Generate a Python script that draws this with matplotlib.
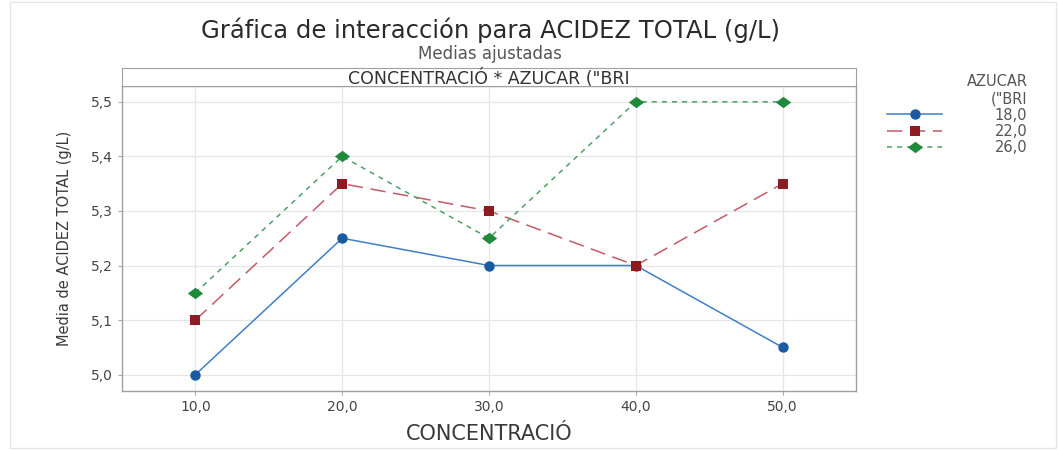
import numpy as np
import matplotlib.pyplot as plt
from matplotlib.ticker import FuncFormatter
from matplotlib.patches import Rectangle

# data
concentracion = [10, 20, 30, 40, 50]
azucar_niveles = ["18,0", "22,0", "26,0"]
media_18 = [5.00, 5.25, 5.20, 5.20, 5.05]
media_22 = [5.10, 5.35, 5.30, 5.20, 5.35]
media_26 = [5.15, 5.40, 5.25, 5.50, 5.50]
y_ticks = [5.0, 5.1, 5.2, 5.3, 5.4, 5.5]

series = [media_18, media_22, media_26]
line_colors = ['#3f7fc4', '#c45a66', '#4ea066']
mark_colors = ['#1a5aa0', '#8e1b21', '#1e8a3a']
styles = ['-', (0, (10, 5)), (0, (3.3, 3.3))]
diamond = [(-1, 0), (0, 0.75), (1, 0), (0, -0.75), (-1, 0)]
markers = ['o', 's', diamond]
msizes = [7.5, 7.5, 11]

plt.rcParams['font.family'] = ['DejaVu Sans']

fig = plt.figure(figsize=(10.59, 4.5), dpi=100)
fig.patches.append(Rectangle((0.009, 0.005), 0.988, 0.99, transform=fig.transFigure,
                             fill=False, edgecolor='#e6e6e6', lw=1))

ax = fig.add_axes([0.1152, 0.1311, 0.6931, 0.6778])
for vals, lc, mc, ls, m, ms, lab in zip(series, line_colors, mark_colors, styles,
                                        markers, msizes, azucar_niveles):
    ax.plot(concentracion, vals, color=lc, linestyle=ls, lw=1.1, marker=m,
            markersize=ms, markerfacecolor=mc, markeredgewidth=0, label=lab, zorder=3)

ax.set_xlim(5, 55)
ax.set_ylim(4.97, 5.529)
ax.set_xticks(concentracion)
ax.set_yticks(y_ticks)
fmt = FuncFormatter(lambda v, p: f"{v:.1f}".replace('.', ','))
ax.xaxis.set_major_formatter(fmt)
ax.yaxis.set_major_formatter(fmt)
ax.grid(True, color='#e6e6e6', lw=0.9)
ax.set_axisbelow(True)
ax.tick_params(labelsize=10, colors='#444444', length=3, color='#aaaaaa')
for s in ax.spines.values():
    s.set_color('#a0a0a0')
    s.set_linewidth(1)

ax.set_xlabel("CONCENTRACIÓ", fontsize=15, color='#3a3a3a', labelpad=7)
ax.set_ylabel("Media de ACIDEZ TOTAL (g/L)", fontsize=10.5, color='#3a3a3a', labelpad=14)

# strip above the panel
strip = fig.add_axes([0.1152, 0.8089, 0.6931, 0.04])
strip.set_xticks([])
strip.set_yticks([])
for s in strip.spines.values():
    s.set_color('#a0a0a0')
strip.text(0.5, 0.42, 'CONCENTRACIÓ * AZUCAR ("BRI', ha='center', va='center',
           fontsize=12.5, color='#333333', transform=strip.transAxes)

fig.text(0.463, 0.932, "Gráfica de interacción para ACIDEZ TOTAL (g/L)",
         ha='center', va='center', fontsize=17.5, color='#2a2a2a')
fig.text(0.463, 0.88, "Medias ajustadas", ha='center', va='center',
         fontsize=12, color='#555555')

leg = fig.legend(*ax.get_legend_handles_labels(), title='AZUCAR\n("BRI',
                 loc='upper left', bbox_to_anchor=(887 / 1059, 1 - 74 / 450),
                 frameon=False, fontsize=10.5, title_fontsize=10.5,
                 handlelength=3.8, handletextpad=3.6, borderpad=0, borderaxespad=0,
                 labelspacing=0.08, alignment='right')
for t in leg.get_texts():
    t.set_color('#555555')
leg.get_title().set_color('#555555')
leg.get_title().set_ha('right')

fig.savefig('out.png', dpi=100)
